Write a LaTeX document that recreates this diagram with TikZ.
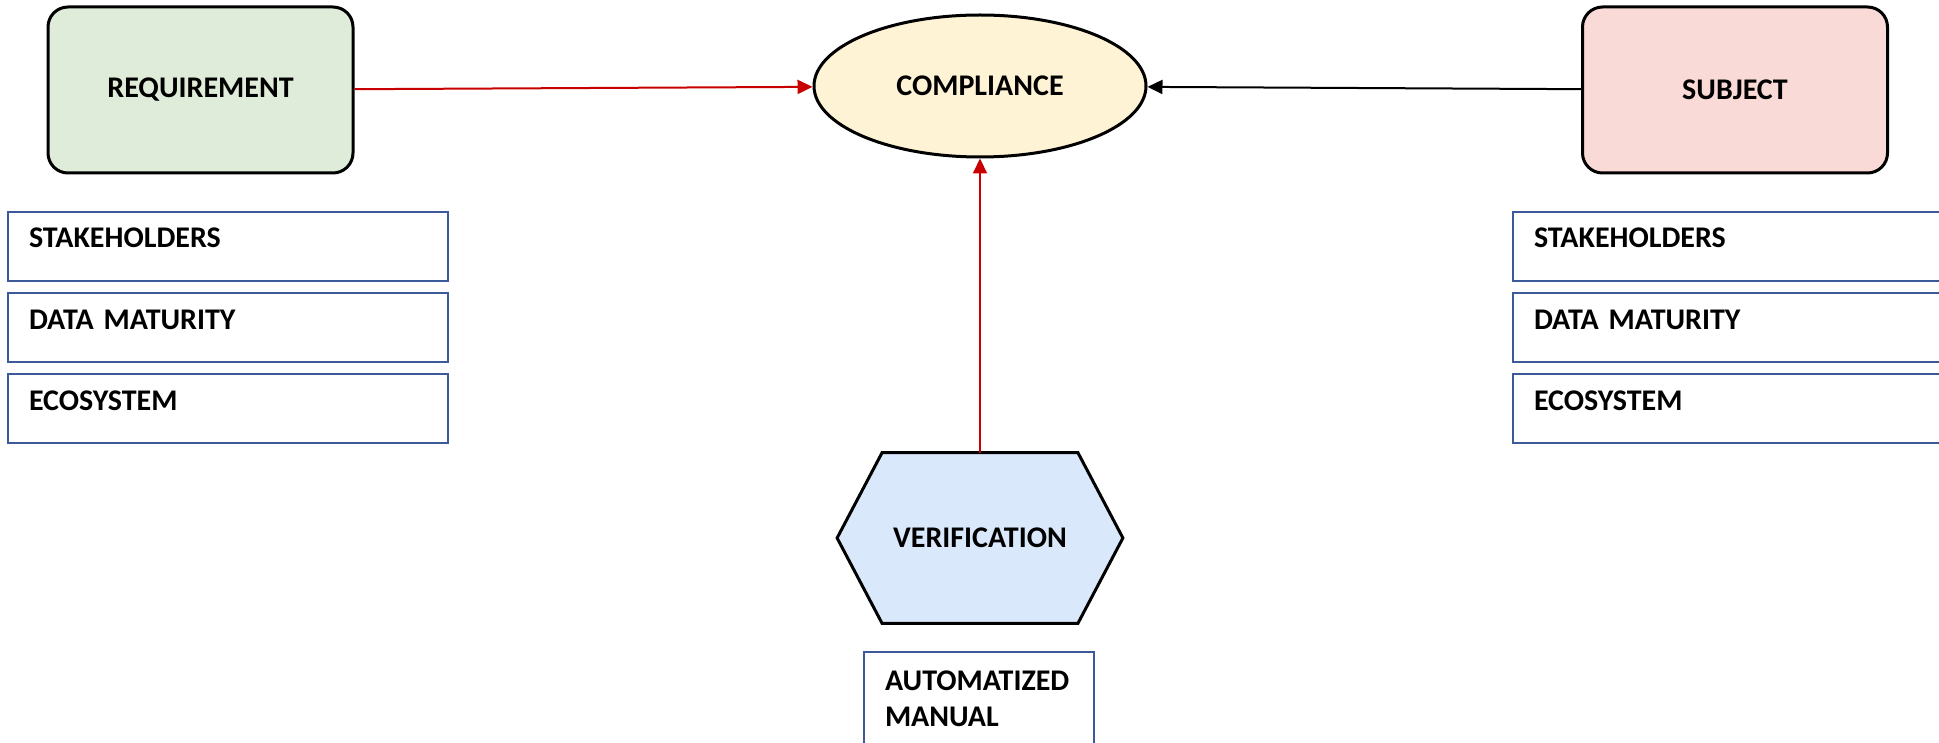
\documentclass[tikz,border=0pt]{standalone}
\usepackage{fontspec}
\setmainfont{Carlito}
\usetikzlibrary{arrows.meta,shapes.geometric,backgrounds}
\definecolor{reqgreen}{HTML}{E0ECDA}
\definecolor{compyellow}{HTML}{FFF3D6}
\definecolor{subjred}{HTML}{FADAD7}
\definecolor{verifblue}{HTML}{DAE8FC}
\definecolor{listblue}{HTML}{3C5A99}
\definecolor{arrowred}{HTML}{C80000}
\begin{document}
\begin{tikzpicture}[x=.5pt,y=-.5pt,
        font=\fontsize{15}{18}\selectfont\bfseries,
        mainbox/.style={draw,line width=1.5pt,rounded corners=10pt,minimum width=152.5pt,minimum height=83pt},
        listbox/.style={draw=listblue,line width=1pt,inner xsep=10.5pt,inner ysep=0pt,text width=199pt,align=left,text height=18pt,text depth=16.5pt},
        link/.style={line width=1pt,-{Triangle[length=7.5pt,width=7pt]}}]
    \clip (0,0) rectangle (1939,743);
    \node[mainbox,fill=reqgreen] (req) at (200.5,90) {REQUIREMENT};
    \node[mainbox,fill=subjred] (subj) at (1735,90) {SUBJECT};
    \node[draw,ellipse,line width=1.5pt,fill=compyellow,minimum width=166pt,minimum height=71pt] (comp) at (980,86) {COMPLIANCE};
    \node[minimum width=97.5pt,minimum height=85pt] (verif) at (980,538) {VERIFICATION};
    \begin{scope}[on background layer]
        \draw[line width=1.5pt,fill=verifblue] (verif.north west) -- (verif.north east) -- ([xshift=22.5pt]verif.east)
            -- (verif.south east) -- (verif.south west) -- ([xshift=-22.5pt]verif.west) -- cycle;
    \end{scope}

    \foreach \t [count=\i] in {STAKEHOLDERS,DATA MATURITY,ECOSYSTEM}{
        \node[listbox] (l\i) at (228,{165.5+81*\i}) {\t};
        \node[listbox] (r\i) at (1733,{165.5+81*\i}) {\t};
    }
    \node[listbox,text width=94pt,anchor=north,text height=19pt,text depth=42pt] (auto) at (979,651) {AUTOMATIZED\\MANUAL};

    \draw[link,arrowred] (req) -- (comp);
    \draw[link] (subj) -- (comp);
    \draw[link,arrowred] (verif) -- (comp);
\end{tikzpicture}
\end{document}
